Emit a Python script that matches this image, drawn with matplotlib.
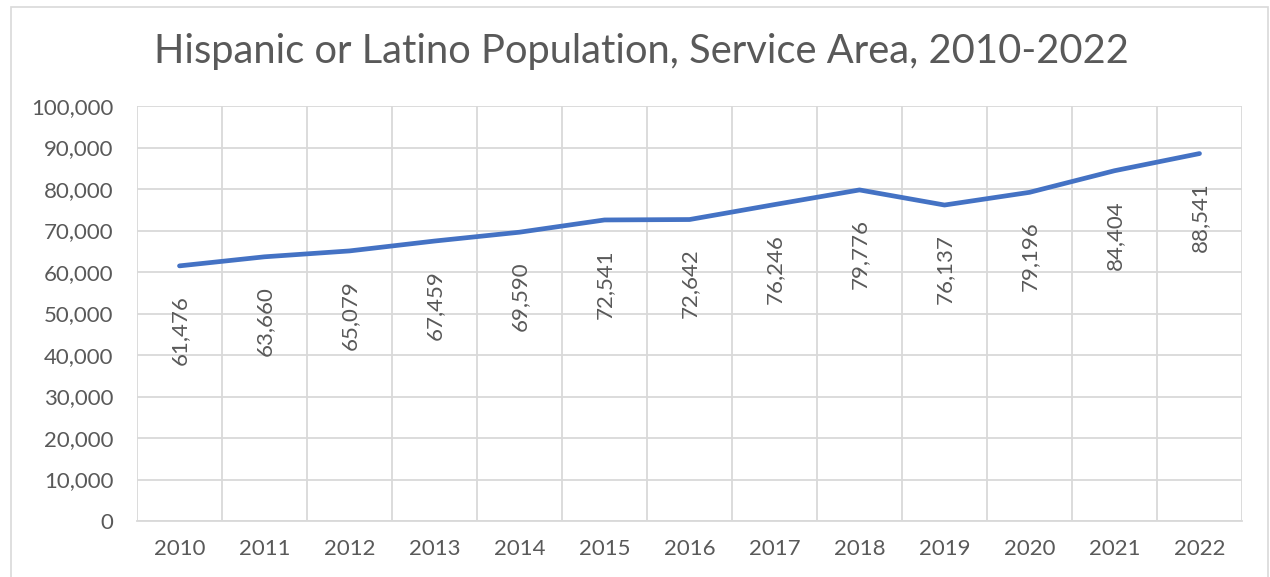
import matplotlib
matplotlib.use("Agg")
import matplotlib.pyplot as plt
from matplotlib.ticker import FuncFormatter, MultipleLocator
from matplotlib.patches import Rectangle

years = ["2010", "2011", "2012", "2013", "2014", "2015", "2016",
         "2017", "2018", "2019", "2020", "2021", "2022"]
population = [61476, 63660, 65079, 67459, 69590, 72541, 72642,
              76246, 79776, 76137, 79196, 84404, 88541]

title = "Hispanic or Latino Population, Service Area, 2010-2022"

plt.rcParams['font.family'] = ['Lato', 'DejaVu Sans']
TXT = '#595959'
GRID = '#d9d9d9'
LINE = '#4472C4'

W, H = 1270, 577
fig = plt.figure(figsize=(W / 100, H / 100), dpi=100)
fig.patch.set_facecolor('white')

# outer chart border
fig.patches.append(Rectangle((11 / W, -0.05), (1268 - 11) / W, (H - 7) / H + 0.05,
                             transform=fig.transFigure, fill=False,
                             edgecolor=GRID, linewidth=1.2))

left, right, top, bottom = 137, 1242, 106, 521
ax = fig.add_axes([left / W, 1 - bottom / H, (right - left) / W, (bottom - top) / H])

x = list(range(len(years)))
ax.plot(x, population, color=LINE, linewidth=3.4, solid_capstyle='round', zorder=3)

ax.set_xlim(-0.5, len(years) - 0.5)
ax.set_ylim(0, 100000)
ax.yaxis.set_major_locator(MultipleLocator(10000))
ax.yaxis.set_major_formatter(FuncFormatter(lambda v, p: f"{int(v):,}"))
ax.set_xticks(x)
ax.set_xticklabels(years)
ax.set_xticks([i - 0.5 for i in range(len(years) + 1)], minor=True)

ax.grid(axis='y', which='major', color=GRID, linewidth=1.3)
ax.grid(axis='x', which='minor', color=GRID, linewidth=1.3)
ax.set_axisbelow(True)
for s in ax.spines.values():
    s.set_visible(False)
ax.spines['bottom'].set_visible(True)
ax.spines['bottom'].set_color(GRID)
ax.spines['bottom'].set_linewidth(1.3)

ax.tick_params(axis='both', which='both', length=0, colors=TXT, labelsize=16)
ax.tick_params(axis='y', pad=17)
ax.tick_params(axis='x', pad=13)

for xi, v in zip(x, population):
    ax.annotate(f"{v:,}", (xi, v), xytext=(0, -21), textcoords='offset points',
                rotation=90, ha='center', va='top', fontsize=16, color=TXT)

fig.text((155 + 1128) / 2 / W, 1 - 51 / H, title, ha='center', va='center',
         fontsize=28.7, color=TXT)

fig.savefig("out.png", dpi=100)
